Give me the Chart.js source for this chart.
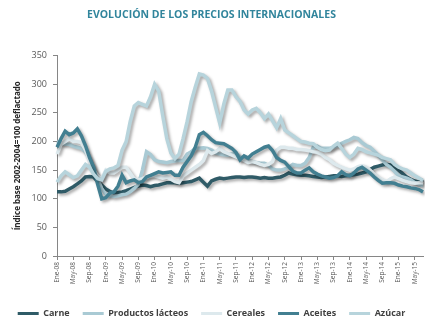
<!DOCTYPE html>
<html>
<head>
<meta charset="utf-8">
<script src="https://cdn.jsdelivr.net/npm/chart.js@4.4.1/dist/chart.umd.min.js"></script>
<style>
  body { margin: 0; background: #fff; }
</style>
</head>
<body>
<canvas id="chartId" width="442" height="328"></canvas>
<script>
// meses y años del eje (Ene-08 ... Jul-15)
var meses = ['Ene', 'Feb', 'Mar', 'Abr', 'May', 'Jun', 'Jul', 'Ago', 'Sep', 'Oct', 'Nov', 'Dic'];
var anios = ['08', '09', '10', '11', '12', '13', '14', '15'];
var ultimoMes = 7; // julio 2015

var fechas = [];
anios.forEach(function (a, k) {
    var n = (k == anios.length - 1) ? ultimoMes : 12;
    for (var m = 0; m < n; m++) fechas.push(meses[m] + '-' + a);
});

var yTicks = [0, 50, 100, 150, 200, 250, 300, 350];

var carne = [
    112, 112, 113, 117, 121, 126, 131, 138, 139, 138, 130, 124,
    117, 113, 110, 111, 112, 114, 117, 120, 122, 124, 123, 121,
    123, 124, 126, 128, 128, 128, 127, 128, 129, 130, 133, 136,
    129, 122, 131, 134, 136, 135, 136, 137, 138, 138, 137, 138,
    138, 137, 136, 137, 136, 136, 137, 138, 141, 145, 143, 142,
    141, 141, 140, 139, 138, 137, 138, 139, 140, 140, 139, 140,
    141, 142, 143, 145, 147, 151, 155, 157, 159, 160, 159, 155,
    150, 144, 138, 134, 131, 129, 133
];

var lacteos = [
    200, 197, 195, 195, 192, 190, 188, 182, 170, 155, 135, 118,
    108, 105, 104, 105, 107, 108, 112, 118, 125, 150, 182, 177,
    168, 165, 164, 163, 165, 166, 167, 167, 178, 182, 188, 188,
    189, 188, 185, 180, 178, 177, 176, 178, 179, 173, 170, 167,
    165, 163, 162, 162, 158, 152, 150, 150, 152, 155, 160, 158,
    158, 162, 172, 190, 192, 188, 188, 188, 190, 193, 197, 200,
    203, 207, 205, 198, 193, 190, 183, 176, 168, 160, 155, 148,
    140, 138, 136, 133, 128, 125, 123
];

var cereales = [
    178, 195, 200, 205, 200, 200, 198, 185, 165, 150, 140, 135,
    150, 145, 145, 150, 155, 155, 145, 135, 133, 135, 138, 140,
    140, 138, 136, 138, 134, 130, 128, 140, 145, 150, 155, 160,
    167, 184, 179, 182, 188, 182, 179, 176, 173, 170, 167, 163,
    165, 163, 160, 158, 160, 165, 185, 190, 190, 188, 188, 186,
    186, 185, 184, 182, 181, 178, 172, 168, 162, 158, 155, 152,
    150, 152, 156, 158, 155, 150, 143, 137, 133, 130, 135, 138,
    135, 132, 130, 128, 127, 128, 128
];

var aceites = [
    190, 205, 218, 212, 215, 222, 210, 193, 172, 155, 125, 100,
    102, 110, 112, 122, 141, 128, 131, 133, 128, 130, 138, 141,
    144, 147, 145, 146, 147, 141, 141, 155, 165, 175, 190, 212,
    216, 210, 203, 198, 197, 196, 192, 188, 181, 168, 175, 171,
    178, 182, 186, 190, 192, 184, 172, 167, 164, 156, 148, 145,
    145, 150, 154, 147, 143, 140, 138, 136, 137, 140, 147, 142,
    140, 145, 152, 155, 150, 145, 138, 132, 127, 128, 128, 127,
    124, 122, 121, 119, 118, 116, 112
];

var azucar = [
    129, 140, 147, 142, 137, 140, 150, 160, 155, 143, 135, 133,
    148, 152, 154, 158, 185, 200, 235, 262, 268, 265, 262, 278,
    300, 288, 245, 205, 180, 170, 178, 205, 235, 270, 295, 318,
    316, 310, 288, 260, 232, 265, 290, 290, 278, 270, 255, 248,
    255, 258, 250, 240, 248, 236, 224, 240, 220, 215, 210, 205,
    200, 199, 197, 196, 190, 186, 184, 185, 192, 197, 188, 178,
    172, 178, 188, 186, 182, 180, 178, 176, 172, 170, 168, 160,
    155, 152, 150, 145, 140, 136, 132
];

var gris = '#595959';
var fuente = "'Open Sans', 'DejaVu Sans', sans-serif";

// sombra de las lineas
var sombra = {
    id: 'sombra',
    beforeDatasetDraw: function (chart) {
        var c = chart.ctx;
        c.save();
        c.shadowColor = 'rgba(0,0,0,0.35)';
        c.shadowBlur = 3;
        c.shadowOffsetX = 2;
        c.shadowOffsetY = 2;
    },
    afterDatasetDraw: function (chart) {
        chart.ctx.restore();
    }
};

function serie(nombre, datos, color, orden) {
    return {
        label: nombre,
        data: datos,
        borderColor: color,
        backgroundColor: color,
        borderWidth: 3.5,
        pointRadius: 0,
        tension: 0,
        fill: false,
        order: orden
    };
}

var chrt = document.getElementById('chartId').getContext('2d');
var chartId = new Chart(chrt, {
    type: 'line',
    data: {
        labels: fechas,
        datasets: [
            serie('Carne', carne, '#2f5b67', 4),
            serie('Productos lácteos', lacteos, '#a9cad4', 3),
            serie('Cereales', cereales, '#dde9ed', 2),
            serie('Aceites', aceites, '#427f91', 1),
            serie('Azúcar', azucar, '#b7d4dc', 0)
        ]
    },
    plugins: [sombra],
    options: {
        responsive: false,
        animation: false,
        devicePixelRatio: 1,
        layout: { padding: { left: 0, right: 19, top: 0, bottom: 0 } },
        plugins: {
            title: {
                display: true,
                text: 'EVOLUCIÓN DE LOS PRECIOS INTERNACIONALES',
                color: '#31859c',
                font: { family: fuente, size: 10.5, weight: 'bold' },
                padding: { top: 9, bottom: 34 }
            },
            legend: {
                position: 'bottom',
                labels: {
                    sort: function (a, b) { return a.datasetIndex - b.datasetIndex; },
                    color: '#404040',
                    font: { family: fuente, size: 9, weight: 'bold' },
                    boxWidth: 21,
                    boxHeight: 3,
                    padding: 13,
                    generateLabels: function (chart) {
                        return Chart.defaults.plugins.legend.labels.generateLabels(chart).map(function (l) {
                            l.lineWidth = 0;
                            return l;
                        });
                    }
                }
            },
            tooltip: { enabled: false }
        },
        scales: {
            x: {
                afterFit: function (s) { s.height = 40; },
                grid: { drawOnChartArea: false, tickLength: 4, color: '#868686' },
                border: { color: '#868686' },
                ticks: {
                    autoSkip: false,
                    maxRotation: 90,
                    minRotation: 90,
                    padding: 2,
                    color: gris,
                    font: { family: fuente, size: 6.5 },
                    callback: function (v, i) { return i % 4 == 0 ? fechas[i] : null; }
                }
            },
            y: {
                min: 0,
                max: 350,
                afterFit: function (s) { s.width = 57; },
                afterBuildTicks: function (s) { s.ticks = yTicks.map(function (v) { return { value: v }; }); },
                grid: { drawOnChartArea: false, tickLength: 4, color: '#868686' },
                border: { color: '#868686' },
                ticks: {
                    padding: 6,
                    color: gris,
                    font: { family: fuente, size: 9 }
                },
                title: {
                    display: true,
                    text: 'Índice base 2002-2004=100 deflactado',
                    color: '#262626',
                    font: { family: fuente, size: 8, weight: 'bold' },
                    padding: { top: 13, bottom: 0 }
                }
            }
        }
    }
});
</script>
</body>
</html>
